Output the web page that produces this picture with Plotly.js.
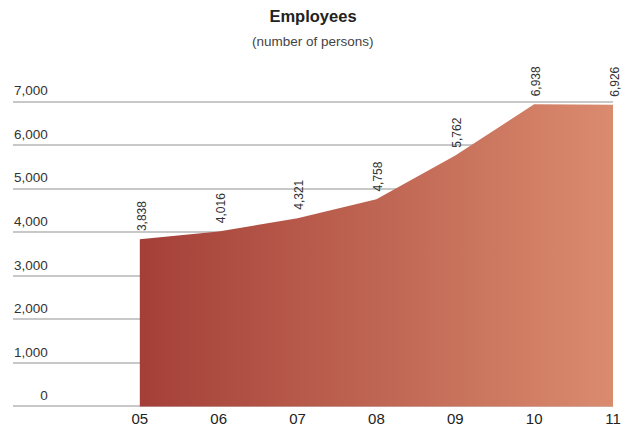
<!DOCTYPE html>
<html>
<head>
<meta charset="utf-8">
<script src="https://cdn.plot.ly/plotly-3.0.1.min.js"></script>
<style>html,body{margin:0;padding:0;background:#fff;}#chart{width:628px;height:428px;}</style>
</head>
<body>
<div id="chart"></div>
<script>
const years = ['05', '06', '07', '08', '09', '10', '11'];
const employees = [3838, 4016, 4321, 4758, 5762, 6938, 6926];
const yTicks = [0, 1000, 2000, 3000, 4000, 5000, 6000, 7000];
const yTickLabels = ['0', '1,000', '2,000', '3,000', '4,000', '5,000', '6,000', '7,000'];

const xIdx = years.map((_, i) => i);
const fmt = v => v.toLocaleString('en-US');

const trace = {
  x: xIdx,
  y: employees,
  type: 'scatter',
  mode: 'lines',
  line: {width: 0, color: 'rgba(0,0,0,0)'},
  fill: 'tozeroy',
  fillgradient: {type: 'horizontal', colorscale: [[0, '#a43f38'], [1, '#da8b6e']]},
  hoverinfo: 'skip'
};

const annotations = employees.map((v, i) => ({
  x: i, y: v, xref: 'x', yref: 'y',
  text: fmt(v), showarrow: false, textangle: -90,
  xanchor: 'center', yanchor: 'bottom', xshift: 2, yshift: 6,
  font: {family: 'Liberation Sans, Arial, sans-serif', size: 12, color: '#333'}
}));

annotations.push({
  text: '(number of persons)', xref: 'paper', yref: 'paper', x: 0.5, y: 1,
  xanchor: 'center', yanchor: 'bottom', yshift: 49, showarrow: false,
  font: {family: 'Liberation Sans, Arial, sans-serif', size: 13.5, color: '#444'}
});

const layout = {
  width: 628, height: 428,
  margin: {l: 13, r: 15, t: 100, b: 20},
  paper_bgcolor: '#fff', plot_bgcolor: '#fff',
  showlegend: false,
  title: {
    text: '<b>Employees</b>', x: 0.5, xref: 'paper', xanchor: 'center',
    y: 1, yref: 'container', yanchor: 'top', pad: {t: 10},
    font: {family: 'Liberation Sans, Arial, sans-serif', size: 16.5, color: '#222'}
  },
  xaxis: {
    range: [-1.608, 6],
    tickmode: 'array', tickvals: xIdx, ticktext: years,
    showgrid: false, zeroline: false, showline: false, ticks: '',
    tickfont: {family: 'Liberation Sans, Arial, sans-serif', size: 15, color: '#222'},
    fixedrange: true
  },
  yaxis: {
    range: [-35, 7035],
    tickmode: 'array', tickvals: yTicks, ticktext: yTickLabels,
    showgrid: true, gridcolor: '#c8c8c8', gridwidth: 2,
    zeroline: false, showline: false, ticks: '',
    anchor: 'free', position: 0.058, side: 'left',
    ticklabelstandoff: 0, ticklabelshift: -11,
    tickfont: {family: 'Liberation Sans, Arial, sans-serif', size: 13.5, color: '#333'},
    fixedrange: true
  },
  annotations: annotations
};

Plotly.newPlot('chart', [trace], layout, {displayModeBar: false, staticPlot: true});
</script>
</body>
</html>
